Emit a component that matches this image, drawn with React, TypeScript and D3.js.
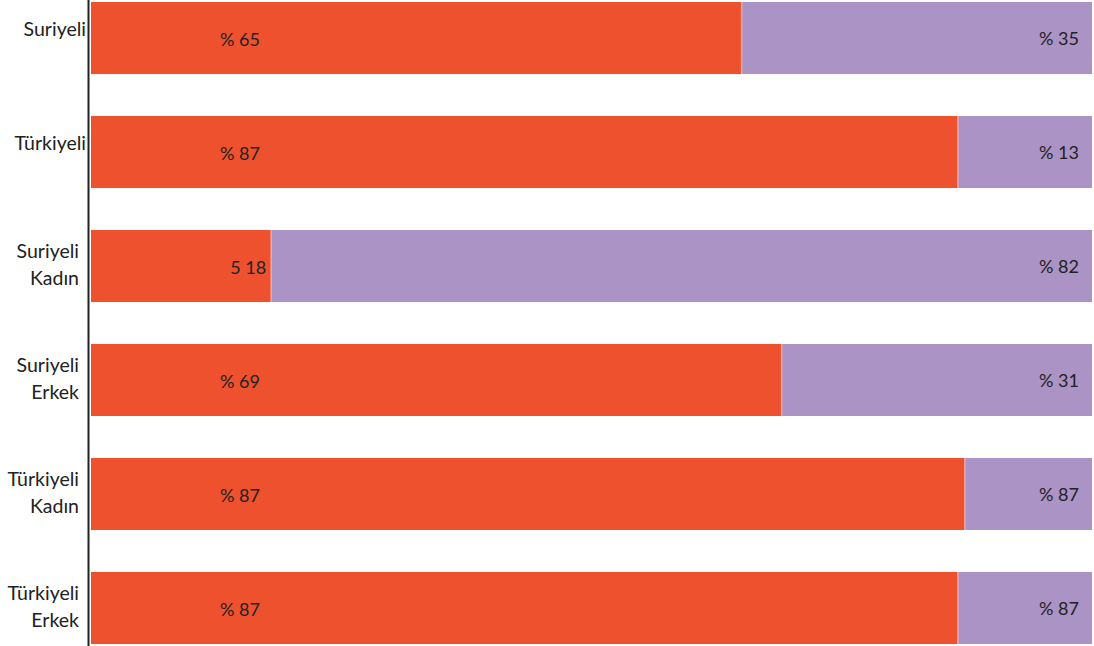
import React from "react";
import * as d3 from "d3";

const categories: string[][] = [
  ["Suriyeli"],
  ["Türkiyeli"],
  ["Suriyeli", "Kadın"],
  ["Suriyeli", "Erkek"],
  ["Türkiyeli", "Kadın"],
  ["Türkiyeli", "Erkek"],
];
const firstValues = [65, 86.6, 18, 69, 87.3, 86.6];
const secondValues = [35, 13.4, 82, 31, 12.7, 13.4];
const firstLabels = ["% 65", "% 87", "5 18", "% 69", "% 87", "% 87"];
const secondLabels = ["% 35", "% 13", "% 82", "% 31", "% 87", "% 87"];

const W = 1094;
const H = 646;
const ORANGE = "#EE512D";
const PURPLE = "#AB93C6";
const FONT = "Lato, 'Open Sans', sans-serif";

export default function App() {
  const keys = categories.map((_, i) => String(i));
  const x = d3.scaleLinear().domain([0, 100]).range([91, 1092]);
  const y = d3.scaleBand<string>().domain(keys).range([2, 644]).paddingInner(0.368).paddingOuter(0);
  const bw = y.bandwidth();

  return (
    <svg width={W} height={H} style={{ position: "absolute", left: 0, top: 0, background: "#fff" }}>
      {keys.map((k, i) => {
        const y0 = y(k)!;
        const cy = y0 + bw / 2;
        const xEnd1 = x(firstValues[i]);
        const xEnd2 = x(firstValues[i] + secondValues[i]);
        const small = firstValues[i] < 30;
        const lines = categories[i];
        return (
          <g key={k}>
            <rect x={x(0)} y={y0} width={xEnd1 - x(0)} height={bw} fill={ORANGE} />
            <rect x={xEnd1} y={y0} width={xEnd2 - xEnd1} height={bw} fill={PURPLE} />
            <line x1={xEnd1} x2={xEnd1} y1={y0} y2={y0 + bw} stroke="#F3A7A0" strokeWidth={1.5} />
            <text
              x={small ? xEnd1 - 5 : 240}
              y={cy + 3}
              textAnchor={small ? "end" : "middle"}
              dominantBaseline="middle"
              fontFamily={FONT}
              fontSize={18}
              fill="#222"
            >
              {firstLabels[i]}
            </text>
            <text
              x={1079}
              y={cy + 2}
              textAnchor="end"
              dominantBaseline="middle"
              fontFamily={FONT}
              fontSize={18}
              fill="#222"
            >
              {secondLabels[i]}
            </text>
            {lines.map((ln, j) => (
              <text
                key={j}
                x={lines.length === 1 ? 86 : 79}
                y={lines.length === 1 ? cy - 7 : cy - 13 + j * 27}
                textAnchor="end"
                dominantBaseline="middle"
                fontFamily={FONT}
                fontSize={19.5}
                fill="#222"
              >
                {ln}
              </text>
            ))}
          </g>
        );
      })}
      <line x1={88.5} x2={88.5} y1={0} y2={H} stroke="#222" strokeWidth={2} />
    </svg>
  );
}
